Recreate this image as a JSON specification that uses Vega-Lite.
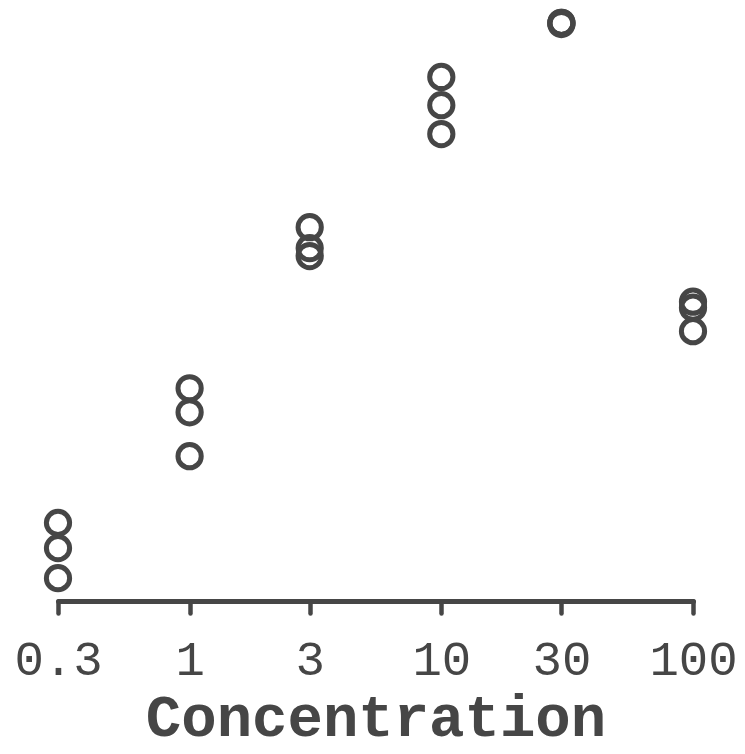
{
  "$schema": "https://vega.github.io/schema/vega-lite/v6.json",
  "width": 635,
  "height": 601,
  "autosize": {"type": "none"},
  "padding": {"left": 58, "top": 0, "right": 52, "bottom": 153},
  "background": "white",
  "config": {"view": {"stroke": null}},
  "data": {
    "values": [
      {"conc": 0.3, "response": 13.0},
      {"conc": 0.3, "response": 8.8},
      {"conc": 0.3, "response": 3.8},
      {"conc": 1, "response": 35.4},
      {"conc": 1, "response": 31.4},
      {"conc": 1, "response": 24.1},
      {"conc": 3, "response": 62.2},
      {"conc": 3, "response": 58.7},
      {"conc": 3, "response": 57.4},
      {"conc": 10, "response": 87.2},
      {"conc": 10, "response": 82.5},
      {"conc": 10, "response": 77.7},
      {"conc": 30, "response": 96.2},
      {"conc": 30, "response": 96.2},
      {"conc": 30, "response": 96.0},
      {"conc": 100, "response": 49.8},
      {"conc": 100, "response": 48.8},
      {"conc": 100, "response": 44.9}
    ]
  },
  "mark": {
    "type": "point",
    "shape": "circle",
    "filled": false,
    "size": 540,
    "strokeWidth": 5,
    "color": "#464646",
    "opacity": 1
  },
  "encoding": {
    "x": {
      "field": "conc",
      "type": "quantitative",
      "scale": {"type": "log", "domain": [0.3, 100], "nice": false},
      "axis": {
        "values": [0.3, 1, 3, 10, 30, 100],
        "format": "~g",
        "grid": false,
        "domainColor": "#464646",
        "domainWidth": 5,
        "domainCap": "round",
        "tickColor": "#464646",
        "tickWidth": 4.5,
        "tickCap": "round",
        "tickSize": 12,
        "labelFont": "Liberation Mono",
        "labelFontSize": 49,
        "labelColor": "#464646",
        "labelPadding": 22,
        "labelFlush": false,
        "labelOverlap": false,
        "title": "Concentration",
        "titleFont": "Liberation Mono",
        "titleFontWeight": "bold",
        "titleFontSize": 59,
        "titleColor": "#464646",
        "titlePadding": 4
      }
    },
    "y": {
      "field": "response",
      "type": "quantitative",
      "scale": {"domain": [0, 100], "nice": false, "zero": false},
      "axis": null
    }
  }
}
